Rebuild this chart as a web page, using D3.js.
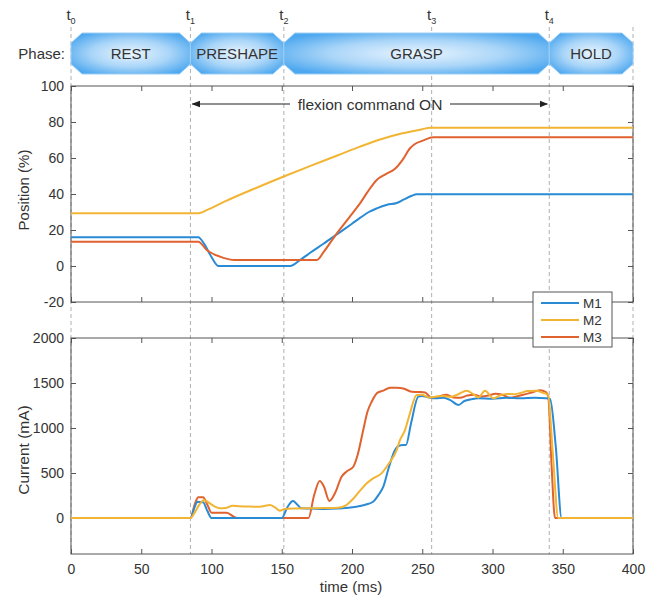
<!DOCTYPE html>
<html>
<head>
<meta charset="utf-8">
<script src="https://cdn.jsdelivr.net/npm/d3@7"></script>
<style>
  body { margin: 0; background: #fff; }
  svg { font-family: "Liberation Sans", Arial, sans-serif; }
</style>
</head>
<body>
<svg id="chart" width="651" height="597"></svg>
<script>
// phase boundaries (ms)
const phaseTimes = [0, 85, 151.5, 256.7, 340.4];
const phaseNames = ["REST", "PRESHAPE", "GRASP", "HOLD"];
const phaseBounds = [[0, 85], [85, 151.5], [151.5, 340.4], [340.4, 400]];
const xTicks = [0, 50, 100, 150, 200, 250, 300, 350, 400];
const posTicks = [-20, 0, 20, 40, 60, 80, 100];
const curTicks = [0, 500, 1000, 1500, 2000];
const seriesNames = ["M1", "M2", "M3"];
const seriesColors = ["#2a8ad4", "#f2b533", "#e0622e"];

// position (%)
const posT1 = [0, 85, 90.6, 95, 100, 105, 156, 163, 170, 180, 190, 200, 205.7, 212, 217.6, 225, 231.8, 237, 242.5, 246, 400];
const posM1 = [16, 16, 16, 12, 5, 0, 0, 3.3, 7.2, 12.5, 18, 23.5, 26.7, 30, 32, 34, 35, 37, 39, 39.8, 39.8];
const posT2 = [0, 90, 91.8, 96.6, 110, 130, 151, 170, 190, 205.7, 220, 236, 250, 255.5, 400];
const posM2 = [29.3, 29.3, 29.5, 31, 36, 42.8, 49.6, 55.5, 61.5, 66.3, 70.3, 73.7, 76, 76.8, 76.8];
const posT3 = [0, 90.6, 96.6, 106, 116.7, 175, 180, 185, 190, 195, 200, 205.7, 211, 217.6, 224, 230.6, 236, 241.3, 244.8, 250, 257.9, 400];
const posM3 = [13.5, 13.5, 8.9, 5.2, 3.3, 3.3, 8, 13.5, 19, 24, 29, 34.8, 41, 47.8, 51, 54, 59, 65.4, 67.8, 69.5, 71.5, 71.5];

// current (mA)
const curT1 = [0, 85, 88, 90, 94, 97, 100, 150, 154, 158, 161, 164, 170, 180, 190, 203, 210, 215, 219, 222.3, 226, 230.6, 233, 236.5, 238.4, 242, 247.2, 249.6, 255, 260, 265, 270, 275.7, 280, 285, 290, 300, 310, 320, 330, 338, 341, 345, 349.2, 400];
const curM1 = [0, 0, 120, 180, 175, 80, 0, 0, 120, 189, 150, 107, 105, 100, 105, 126, 150, 181, 260, 348, 550, 755, 800, 811, 811, 1050, 1348, 1355, 1340, 1330, 1335, 1310, 1255, 1300, 1320, 1330, 1325, 1335, 1330, 1335, 1330, 1320, 800, 0, 0];
const curT2 = [0, 85, 88, 91, 94.7, 98, 102, 106, 110, 115, 120, 125, 130, 134.5, 138, 141.6, 145, 148.7, 152, 160, 170, 180, 190, 196, 200, 205, 210.5, 215, 221, 226, 231.8, 234, 237.7, 241, 246, 249.6, 255, 260, 265, 270, 275, 281.7, 286, 290, 294.7, 300.6, 305, 310, 315, 320, 325, 331, 336, 339.5, 343, 346.8, 400];
const curM2 = [0, 0, 60, 140, 200, 170, 130, 107, 110, 137, 130, 128, 125, 126, 135, 144, 120, 81, 100, 105, 108, 110, 115, 144, 200, 290, 385, 440, 496, 600, 755, 860, 977, 1150, 1366, 1370, 1340, 1350, 1355, 1345, 1370, 1414, 1380, 1340, 1414, 1330, 1360, 1378, 1375, 1390, 1410, 1414, 1390, 1370, 700, 0, 0];
const curT3 = [0, 85, 88, 90.6, 94, 97, 100, 110.7, 118, 169, 173, 177, 180, 183.9, 188, 192.6, 196, 200.9, 204, 208, 211, 214, 218, 222.3, 227, 232, 236.5, 242.5, 248, 252, 257, 262, 267, 272, 277, 282, 287, 292, 297, 302, 307, 312, 317, 322, 327, 333.8, 338, 339.7, 342, 344.5, 400];
const curM3 = [0, 0, 150, 230, 230, 150, 59, 59, 0, 0, 250, 411, 350, 189, 280, 459, 515, 570, 700, 978, 1180, 1292, 1390, 1415, 1448, 1448, 1440, 1403, 1400, 1395, 1330, 1350, 1370, 1340, 1335, 1360, 1370, 1350, 1360, 1380, 1370, 1335, 1350, 1370, 1390, 1420, 1400, 1350, 600, 0, 0];

const posSeries = [[posT1, posM1], [posT2, posM2], [posT3, posM3]];
const curSeries = [[curT1, curM1], [curT2, curM2], [curT3, curM3]];

let svg = d3.select("#chart");
let axisColor = "#555";
let textColor = "#333";

let x = d3.scaleLinear().domain([0, 400]).range([71, 633]);
let yPos = d3.scaleLinear().domain([-20, 100]).range([302, 86]);
let yCur = d3.scaleLinear().domain([-400, 2000]).range([554, 338]);

// gradient for phase blocks
let defs = svg.append("defs");
let grad = defs.append("radialGradient").attr("id", "phaseGrad")
    .attr("cx", "50%").attr("cy", "50%").attr("r", "60%");
grad.append("stop").attr("offset", "0%").attr("stop-color", "#eaf5ff");
grad.append("stop").attr("offset", "55%").attr("stop-color", "#a9d5f8");
grad.append("stop").attr("offset", "100%").attr("stop-color", "#4ea8ef");

// dashed phase lines
let dashTimes = phaseTimes.concat([400]);
svg.append("g").selectAll("line").data(dashTimes).join("line")
    .attr("x1", d => x(d)).attr("x2", d => x(d))
    .attr("y1", 27).attr("y2", 554)
    .attr("stroke", "#b0b0b0").attr("stroke-width", 1)
    .attr("stroke-dasharray", "4,3");

// t labels
let tLab = svg.append("g").selectAll("text").data(phaseTimes).join("text")
    .attr("x", d => x(d)).attr("y", 20)
    .attr("text-anchor", "middle")
    .attr("fill", textColor).style("font-size", "15px");
tLab.append("tspan").text("t");
tLab.append("tspan").attr("dy", 4).style("font-size", "9px").text((d, i) => i);

// phase blocks
let phTop = 33, phBot = 74, chX = 11, chY = 10;
let gPhase = svg.append("g");
phaseBounds.forEach((b, i) => {
    let x0 = x(b[0]), x1 = x(b[1]);
    let mid = (phTop + phBot) / 2;
    let pts = [[x0, phTop + chY], [x0 + chX, phTop], [x1 - chX, phTop], [x1, phTop + chY],
        [x1, phBot - chY], [x1 - chX, phBot], [x0 + chX, phBot], [x0, phBot - chY]];
    gPhase.append("polygon")
        .attr("points", pts.map(p => p.join(",")).join(" "))
        .attr("fill", "url(#phaseGrad)")
        .attr("stroke", "#9ccff6").attr("stroke-width", 1);
    gPhase.append("text")
        .attr("x", (x0 + x1) / 2).attr("y", mid + 5.5)
        .attr("text-anchor", "middle")
        .attr("fill", textColor).style("font-size", "15px")
        .text(phaseNames[i]);
});
svg.append("text").attr("x", 65).attr("y", 59).attr("text-anchor", "end")
    .attr("fill", textColor).style("font-size", "15px").text("Phase:");

function drawAxes(y, ticks, showX) {
    let g = svg.append("g");
    let r = y.range();
    g.append("g").attr("transform", `translate(0,${r[0]})`)
        .call(d3.axisBottom(x).tickValues(xTicks).tickSize(-5).tickPadding(10)
            .tickFormat(showX ? (d => String(d)) : ""));
    g.append("g").attr("transform", `translate(0,${r[1]})`)
        .call(d3.axisTop(x).tickValues(xTicks).tickSize(-5).tickFormat(""));
    g.append("g").attr("transform", `translate(${x(0)},0)`)
        .call(d3.axisLeft(y).tickValues(ticks).tickSize(-5).tickPadding(7)
            .tickFormat(d => String(d)));
    g.append("g").attr("transform", `translate(${x(400)},0)`)
        .call(d3.axisRight(y).tickValues(ticks).tickSize(-5).tickFormat(""));
    g.selectAll(".domain").remove();
    g.selectAll(".tick line").attr("stroke", axisColor);
    g.selectAll(".tick text").attr("fill", textColor).style("font-size", "14px")
        .style("font-family", "Liberation Sans, Arial, sans-serif");
    g.append("rect").attr("x", x(0)).attr("y", r[1])
        .attr("width", x(400) - x(0)).attr("height", r[0] - r[1])
        .attr("fill", "none").attr("stroke", axisColor).attr("stroke-width", 1);
}

function drawLines(series, y, order) {
    let line = d3.line().x(d => x(d[0])).y(d => y(d[1])).curve(d3.curveMonotoneX);
    order.forEach(i => {
        let s = series[i];
        let pts = s[0].map((t, k) => [t, s[1][k]]);
        svg.append("path").datum(pts)
            .attr("d", line)
            .attr("fill", "none")
            .attr("stroke", seriesColors[i])
            .attr("stroke-width", 2)
            .attr("stroke-linejoin", "round");
    });
}

drawAxes(yPos, posTicks, false);
drawAxes(yCur, curTicks, true);
drawLines(posSeries, yPos, [0, 1, 2]);
drawLines(curSeries, yCur, [2, 0, 1]);

// flexion command annotation
defs.append("marker").attr("id", "arr").attr("viewBox", "0 0 10 10")
    .attr("refX", 9).attr("refY", 5).attr("markerWidth", 7).attr("markerHeight", 7)
    .attr("orient", "auto-start-reverse")
    .append("path").attr("d", "M0,1 L10,5 L0,9 z").attr("fill", "#222");
let ay = 104;
svg.append("line").attr("x1", x(85) + 2).attr("x2", 290).attr("y1", ay).attr("y2", ay)
    .attr("stroke", "#222").attr("stroke-width", 1.2).attr("marker-start", "url(#arr)");
svg.append("line").attr("x1", 450).attr("x2", x(340.4) - 2).attr("y1", ay).attr("y2", ay)
    .attr("stroke", "#222").attr("stroke-width", 1.2).attr("marker-end", "url(#arr)");
svg.append("text").attr("x", 370).attr("y", ay + 5.5).attr("text-anchor", "middle")
    .attr("fill", textColor).style("font-size", "15.5px").text("flexion command ON");

// axis labels
svg.append("text").attr("transform", "translate(29,190) rotate(-90)")
    .attr("text-anchor", "middle").attr("fill", textColor).style("font-size", "15px")
    .text("Position (%)");
svg.append("text").attr("transform", "translate(29,450) rotate(-90)")
    .attr("text-anchor", "middle").attr("fill", textColor).style("font-size", "15.5px")
    .text("Current (mA)");
svg.append("text").attr("x", 351).attr("y", 592).attr("text-anchor", "middle")
    .attr("fill", textColor).style("font-size", "15px").text("time (ms)");

// legend
let lg = svg.append("g").attr("transform", "translate(533,292)");
lg.append("rect").attr("width", 79).attr("height", 55)
    .attr("fill", "#fff").attr("stroke", axisColor).attr("stroke-width", 1);
seriesNames.forEach((n, i) => {
    lg.append("line").attr("x1", 8).attr("x2", 46)
        .attr("y1", 11 + i * 17).attr("y2", 11 + i * 17)
        .attr("stroke", seriesColors[i]).attr("stroke-width", 2);
    lg.append("text").attr("x", 50).attr("y", 16 + i * 17)
        .attr("fill", textColor).style("font-size", "13.5px").text(n);
});
</script>
</body>
</html>
